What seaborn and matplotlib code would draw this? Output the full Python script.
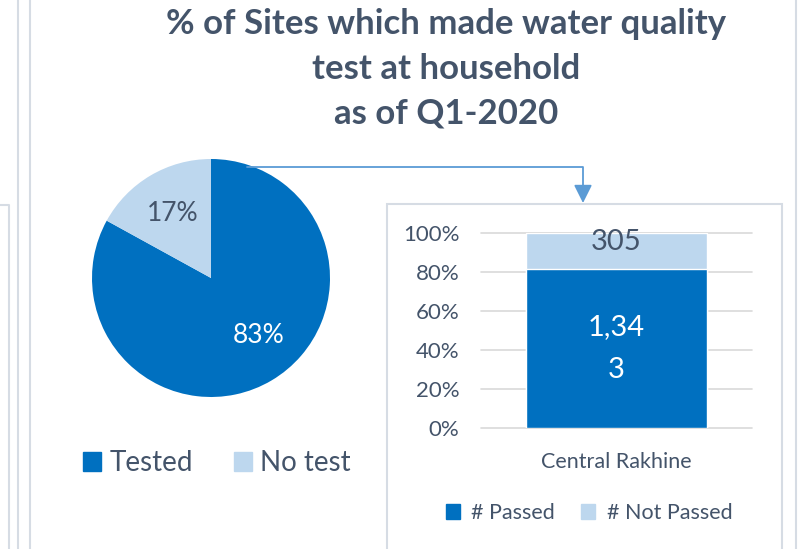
import pandas as pd
import matplotlib.pyplot as plt
import matplotlib.patches as mpatches
from matplotlib.lines import Line2D
import seaborn as sns

# ── Data ───────────────────────────────────────────────────────────────────
pie_labels = ["Tested", "No test"]
pie_values = [83, 17]

regions = ["Central Rakhine"]
passed = [1343]
not_passed = [305]

# ── Palette ────────────────────────────────────────────────────────────────
C_DARK = "#0070C0"
C_LIGHT = "#BDD7EE"
C_TEXT = "#44546A"
C_GRID = "#D9D9D9"
C_FRAME = "#D6DCE4"
C_ARROW = "#5B9BD5"

sns.set_theme(style="white")
plt.rcParams["font.family"] = ["Lato", "DejaVu Sans"]

W, H = 805, 549
fig = plt.figure(figsize=(W / 100, H / 100), dpi=100)
fig.patch.set_facecolor("white")


def fx(px):
    return px / W


def fy(py):
    return 1 - py / H


# ── Frame lines (slide borders) ────────────────────────────────────────────
for x in (17.5, 30, 796):
    fig.add_artist(Line2D([fx(x), fx(x)], [0, 1], color=C_FRAME, lw=1.5))
fig.add_artist(Line2D([0, fx(9), fx(9)], [fy(205), fy(205), 0], color=C_FRAME, lw=1.5))

# ── Title ──────────────────────────────────────────────────────────────────
fig.text(fx(446), fy(69),
         "% of Sites which made water quality\ntest at household\nas of Q1-2020",
         ha="center", va="center", fontsize=25, fontweight="bold",
         color=C_TEXT, linespacing=1.5)

# ── Pie ────────────────────────────────────────────────────────────────────
R = 119
cx, cy = 211, 278
ax_pie = fig.add_axes([fx(cx - R), fy(cy + R), 2 * R / W, 2 * R / H])
wedges, _, autotexts = ax_pie.pie(
    pie_values, colors=[C_DARK, C_LIGHT], startangle=90, counterclock=False,
    autopct=lambda p: f"{p:.0f}%", pctdistance=0.63,
    wedgeprops=dict(linewidth=0),
    textprops=dict(fontsize=19),
)
autotexts[0].set_color("white")
autotexts[1].set_color(C_TEXT)
# Excel "best fit" puts the big label a little further right
px_, py_ = autotexts[0].get_position()
autotexts[0].set_position((px_ + 0.08, py_ + 0.06))
ax_pie.set_xlim(-1, 1)
ax_pie.set_ylim(-1, 1)
ax_pie.set_aspect("auto")
ax_pie.axis("off")

pie_handles = [mpatches.Patch(color=c, label=l) for c, l in zip([C_DARK, C_LIGHT], pie_labels)]
fig.legend(handles=pie_handles, loc="center", bbox_to_anchor=(fx(217), fy(463)),
           ncol=2, frameon=False, fontsize=20, handlelength=0.65, handleheight=0.65,
           handletextpad=0.3, columnspacing=1.45, labelcolor=C_TEXT, borderpad=0)

# ── Inset box ──────────────────────────────────────────────────────────────
fig.add_artist(mpatches.Rectangle((fx(387), -0.05), fx(782) - fx(387), fy(204) + 0.05,
                                  transform=fig.transFigure, fill=False,
                                  edgecolor=C_FRAME, lw=1.5))

# ── Arrow from pie to bar ──────────────────────────────────────────────────
fig.add_artist(mpatches.FancyArrowPatch(
    (fx(247), fy(167)), (fx(583), fy(203)), transform=fig.transFigure,
    connectionstyle="angle,angleA=0,angleB=90,rad=0",
    arrowstyle="-|>,head_length=4.4,head_width=2.2", shrinkA=0, shrinkB=0,
    color=C_ARROW, lw=1.3, mutation_scale=2.5))

# ── 100% stacked bar ───────────────────────────────────────────────────────
df = pd.DataFrame({"region": regions, "passed": passed, "not_passed": not_passed})
df["total"] = df["passed"] + df["not_passed"]
df["share_total"] = df["total"] / df["total"]
df["share_passed"] = df["passed"] / df["total"]

ax_bar = fig.add_axes([fx(481), fy(428), fx(752) - fx(481), (428 - 233) / H])
sns.barplot(data=df, x="region", y="share_total", color=C_LIGHT, width=1.0,
            saturation=1, ax=ax_bar)
sns.barplot(data=df, x="region", y="share_passed", color=C_DARK, width=1.0,
            saturation=1, ax=ax_bar)


def wrap_num(v):
    s = f"{v:,}"
    return s if len(s) <= 4 else s[:4] + "\n" + s[4:]


ax_bar.bar_label(ax_bar.containers[1], labels=[wrap_num(v) for v in passed],
                 label_type="center", fontsize=21, color="white", linespacing=1.85)
for i, row in df.iterrows():
    ax_bar.text(i, (row["share_passed"] + row["share_total"]) / 2 + 0.045,
                wrap_num(row["not_passed"]), ha="center", va="center",
                fontsize=21, color=C_TEXT)

ax_bar.set_xlim(-0.75, 0.75)
ax_bar.set_ylim(0, 1)
ax_bar.set_yticks([0, 0.2, 0.4, 0.6, 0.8, 1.0])
ax_bar.set_yticklabels([f"{int(t * 100)}%" for t in ax_bar.get_yticks()])
ax_bar.yaxis.grid(True, color=C_GRID, lw=1.2)
ax_bar.set_axisbelow(True)
for gl in ax_bar.get_ygridlines():
    gl.set_clip_on(False)
for s in ax_bar.spines.values():
    s.set_visible(False)
ax_bar.tick_params(axis="y", length=0, pad=15.5, labelsize=16, labelcolor=C_TEXT)
ax_bar.tick_params(axis="x", length=0, pad=17, labelsize=15.5, labelcolor=C_TEXT)
ax_bar.set_xlabel("")
ax_bar.set_ylabel("")
ax_bar.set_facecolor("none")

bar_handles = [mpatches.Patch(color=C_DARK, label="# Passed"),
               mpatches.Patch(color=C_LIGHT, label="# Not Passed")]
fig.legend(handles=bar_handles, loc="center", bbox_to_anchor=(fx(589), fy(513)),
           ncol=2, frameon=False, fontsize=15.5, handlelength=0.65, handleheight=0.65,
           handletextpad=0.55, columnspacing=1.2, labelcolor=C_TEXT, borderpad=0)

fig.savefig("out.png", dpi=100, facecolor="white")
